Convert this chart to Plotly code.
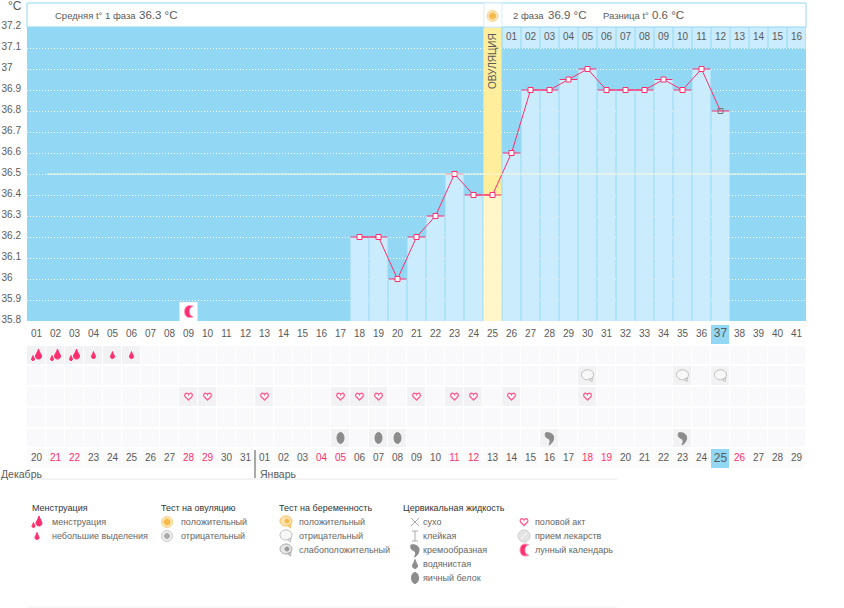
import plotly.graph_objects as go

# chart data
days = list(range(1, 42))
day_labels = [f"{d:02d}" for d in days]
date_labels = [str(d) for d in range(20, 32)] + [f"{d:02d}" for d in range(1, 30)]
red_date_days = [2, 3, 9, 10, 16, 17, 23, 24, 30, 31, 38]
temp_days = list(range(18, 38))
temps = [36.2, 36.2, 36.0, 36.2, 36.3, 36.5, 36.4, 36.4, 36.6, 36.9,
         36.9, 36.95, 37.0, 36.9, 36.9, 36.9, 36.95, 36.9, 37.0, 36.8]
y_ticks = [37.2, 37.1, 37.0, 36.9, 36.8, 36.7, 36.6, 36.5, 36.4, 36.3,
           36.2, 36.1, 36.0, 35.9, 35.8]
y_labels = ["37.2", "37.1", "37", "36.9", "36.8", "36.7", "36.6", "36.5", "36.4",
            "36.3", "36.2", "36.1", "36", "35.9", "35.8"]
phase2_days = list(range(26, 42))
phase2_labels = [f"{d:02d}" for d in range(1, 17)]
ovulation_day = 25
today = 37
cover_temp = 36.5
jan_first_day = 13
moon_days = [9]
heavy_days = [1, 2, 3]
light_days = [4, 5, 6]
preg_neg_days = [30, 35, 37]
sex_days = [9, 10, 13, 17, 18, 19, 21, 23, 24, 26, 30]
egg_days = [17, 19, 20]
cream_days = [28, 35]

W, H = 844, 608
BLUE = "#92d8f5"
PALE = "#cbecfd"
RED = "#ff2e6e"
TXT = "#5a5a5a"
FONT = "Liberation Sans"


def px(x):
    return x / W


def py(y):
    return 1 - y / H


# icons: (fill, line colour, path) in pixels around the anchor
def drop(cx, cy, w, h):
    return (f"M {cx} {cy + h / 2} C {cx + w * 0.2} {cy + h * 0.1} {cx + w / 2} {cy - h * 0.05} {cx + w / 2} {cy - h * 0.2} "
            f"C {cx + w / 2} {cy - h * 0.6} {cx - w / 2} {cy - h * 0.6} {cx - w / 2} {cy - h * 0.2} "
            f"C {cx - w / 2} {cy - h * 0.05} {cx - w * 0.2} {cy + h * 0.1} {cx} {cy + h / 2} Z")


def blob(cx, cy, rx, ry):
    k = 0.55
    return (f"M {cx} {cy + ry} C {cx + rx * k} {cy + ry} {cx + rx} {cy + ry * k} {cx + rx} {cy} "
            f"C {cx + rx} {cy - ry * k} {cx + rx * k} {cy - ry} {cx} {cy - ry} "
            f"C {cx - rx * k} {cy - ry} {cx - rx} {cy - ry * k} {cx - rx} {cy} "
            f"C {cx - rx} {cy + ry * k} {cx - rx * k} {cy + ry} {cx} {cy + ry} Z")


HEART = ("M 0 -3.5 L -3.5 0 C -4.5 1.8 -3.2 3.5 -1.6 3.2 C -0.8 3 -0.2 2.6 0 2 "
         "C 0.2 2.6 0.8 3 1.6 3.2 C 3.2 3.5 4.5 1.8 3.5 0 Z")
BUBBLE = blob(0, 1, 6, 5) + " M 1.5 -3.5 L 4.5 -6 L 5 -2 Z"
COMMA = "M -4 5 C 0 6 5 4 4 -1 C 3.5 -4 1.5 -6 -0.5 -7 C 1 -4 1 -2 -0.5 -1 C -3 0 -5 1 -4 5 Z"
MOON = "M 2 6 C -6 7 -6 -7 2 -6 C 5 -5.5 5 -5 4 -5 C 0 -4 0 4 4 5 C 5 5 5 5.5 2 6 Z"
GREY = "#8c8c8c"
ICONS = {
    "heavy": [(RED, RED, drop(2, 1, 6, 10)), (RED, RED, drop(-3.5, -3, 3, 5))],
    "light": [(RED, RED, drop(0, 0, 4, 7))],
    "heart": [("#ffffff", "#ff5f8f", HEART)],
    "bubble": [("#f8f8f8", "#bdbdbd", BUBBLE)],
    "bubble_pos": [("#fbe3ae", "#f4bf63", BUBBLE), ("#f6b94a", "#f6b94a", blob(1, 1, 2, 2))],
    "bubble_weak": [("#e6e6e6", "#aaaaaa", BUBBLE), ("#999999", "#999999", blob(1, 1, 2, 2))],
    "egg": [(GREY, GREY, blob(0, 0, 3.5, 5.5))],
    "cream": [(GREY, GREY, COMMA)],
    "water": [(GREY, GREY, drop(0, 0, 5, 9))],
    "moon": [(RED, "#ff9dbb", MOON)],
    "ov_pos": [("#fde6b8", "#fbd083", blob(0, 0, 5.5, 5.5)), ("#f6b94a", "#f6b94a", blob(0, 0, 3, 3))],
    "ov_neg": [("#eeeeee", "#cccccc", blob(0, 0, 5.5, 5.5)), ("#aaaaaa", "#aaaaaa", blob(0, 0, 2.5, 2.5))],
    "dry": [("rgba(0,0,0,0)", "#aaaaaa", "M -4 4 L 4 -4 M -4 -4 L 4 4")],
    "sticky": [("rgba(0,0,0,0)", "#aaaaaa", "M -3 5 L 3 5 M 0 5 L 0 -5 M -3 -5 L 3 -5")],
    "pill": [("#e4e4e4", "#cfcfcf", blob(0, 0, 6, 6)), ("rgba(0,0,0,0)", "#ffffff", "M -3 -3 L 3 3")],
}


def icon(fig, name, x, y, xref, yref):
    for fill, line, path in ICONS[name]:
        fig.add_shape(type="path", path=path, xref=xref, yref=yref, xsizemode="pixel", ysizemode="pixel",
                      xanchor=x, yanchor=y, fillcolor=fill, line=dict(color=line, width=1.3 if name == "heart" else 1))


def label(fig, text, x, y, size=9.5, color=TXT, **kw):
    fig.add_annotation(text=text, x=px(x), y=py(y), xref="paper", yref="paper", showarrow=False,
                       xanchor=kw.pop("xanchor", "left"), yanchor="middle", borderpad=0, borderwidth=0,
                       font=dict(family=FONT, size=size, color=color), **kw)


# grid of rows under the chart
rows = list(range(7))
active = {1: heavy_days + light_days, 2: preg_neg_days, 3: sex_days, 4: [], 5: egg_days + cream_days}
z = []
for r in rows:
    line = []
    for d in days:
        if r in (0, 6):
            line.append(4 if d == today else (0 if r == 0 else 1))
        else:
            line.append(3 if d in active[r] else 2)
    z.append(line)

fig = go.Figure()
fig.add_trace(go.Heatmap(x=days, y=rows, z=z, yaxis="y2", xgap=1, ygap=2, zmin=0, zmax=4, showscale=False,
                         hoverinfo="skip",
                         colorscale=[[0, "#ffffff"], [0.2, "#ffffff"], [0.25, "#fbfbfc"], [0.5, "#f9f9fb"],
                                     [0.75, "#f2f2f4"], [0.8, BLUE], [1, BLUE]]))

# background band of the ovulation day and bars
fig.add_trace(go.Bar(x=[ovulation_day], y=[y_ticks[0] - y_ticks[-1]], base=[y_ticks[-1]], width=0.95,
                     marker=dict(color="#ffee9c", line_width=0)))
fig.add_trace(go.Bar(x=temp_days, y=[t - y_ticks[-1] for t in temps], base=y_ticks[-1], width=0.95,
                     marker=dict(color=["#fff7c9" if d == ovulation_day else PALE for d in temp_days], line_width=0)))
fig.add_trace(go.Bar(x=phase2_days, y=[0.1] * len(phase2_days), base=y_ticks[1], width=0.95,
                     marker=dict(color=PALE, line_width=0)))
fig.add_trace(go.Bar(x=moon_days, y=[0.09], base=y_ticks[-1], width=0.95, marker=dict(color="#ffffff", line_width=0)))
fig.add_trace(go.Scatter(x=phase2_days, y=[37.15] * len(phase2_days), text=phase2_labels, mode="text",
                         textfont=dict(family=FONT, size=10, color=TXT)))

# temperature line
fig.add_trace(go.Scatter(x=temp_days, y=temps, mode="lines+markers",
                         line=dict(color=RED, width=1),
                         marker=dict(symbol="square", size=5,
                                     color=["rgba(255,255,255,0)" if d == today else "#ffffff" for d in temp_days],
                                     line=dict(color=["#777777" if d == today else RED for d in temp_days], width=1)),
                         error_x=dict(type="constant", value=0.47, color=RED, thickness=1, width=0)))

# day numbers and dates
fig.add_trace(go.Scatter(x=days, y=[0] * len(days), text=day_labels, mode="text", yaxis="y2",
                         textfont=dict(family=FONT, color=TXT, size=[12 if d == today else 10 for d in days])))
fig.add_trace(go.Scatter(x=days, y=[6] * len(days), text=date_labels, mode="text", yaxis="y2",
                         textfont=dict(family=FONT,
                                       color=[RED if d in red_date_days else TXT for d in days],
                                       size=[12 if d == today else 10 for d in days])))

fig.update_layout(
    width=W, height=H, margin=dict(l=0, r=0, t=0, b=0, autoexpand=False), autosize=False,
    paper_bgcolor="#ffffff", plot_bgcolor="rgba(0,0,0,0)", showlegend=False, barmode="overlay",
    font=dict(family=FONT, size=10, color=TXT),
    xaxis=dict(domain=[px(27), px(806)], range=[0.5, 41.5], visible=False),
    yaxis=dict(domain=[py(321), py(27)], range=[35.8, 37.2], tickmode="array", tickvals=y_ticks,
               ticktext=[s if "." in s else s + "\u00a0\u00a0\u00a0" for s in y_labels],
               ticks="outside", ticklen=3, tickcolor="rgba(0,0,0,0)", ticklabelshift=-2, zeroline=False,
               showline=False, showgrid=True, gridcolor="#ffffff", griddash="1px,2px", gridwidth=1,
               tickfont=dict(family=FONT, size=10, color=TXT)),
    yaxis2=dict(domain=[py(469), py(324)], range=[6.5, -0.5], visible=False),
)

# blue field behind the chart
fig.add_shape(type="rect", xref="x", yref="y", x0=0.5, x1=41.5, y0=y_ticks[-1], y1=y_ticks[0],
              fillcolor=BLUE, line_width=0, layer="below")
# cover line
fig.add_shape(type="line", xref="paper", yref="y", x0=px(47), x1=px(806), y0=cover_temp, y1=cover_temp,
              line=dict(color="#fbf8d8", width=1))

# header box
fig.add_shape(type="rect", xref="paper", yref="paper", x0=px(27), x1=px(806), y0=py(27), y1=py(3),
              fillcolor="#ffffff", line=dict(color=BLUE, width=1))
fig.add_shape(type="rect", xref="paper", yref="paper", x0=px(484), x1=px(502), y0=py(27), y1=py(3),
              fillcolor="#ffffff", line=dict(color="#d5eefa", width=1))
icon(fig, "ov_pos", ovulation_day, py(16), "x", "paper")
label(fig, "°C", 8, 6, size=12)
label(fig, "Средняя t° 1 фаза", 55, 16)
label(fig, "36.3 °C", 139, 15, size=11.5)
label(fig, "2 фаза", 513, 16)
label(fig, "36.9 °C", 548, 15, size=11.5)
label(fig, "Разница t°", 603, 16)
label(fig, "0.6 °C", 652, 15, size=11.5)
label(fig, "ОВУЛЯЦИЯ", 493, 61, size=10, xanchor="center", textangle=-90)

# event icons
for d in heavy_days:
    icon(fig, "heavy", d, 1, "x", "y2")
for d in light_days:
    icon(fig, "light", d, 1, "x", "y2")
for d in preg_neg_days:
    icon(fig, "bubble", d, 2, "x", "y2")
for d in sex_days:
    icon(fig, "heart", d, 3, "x", "y2")
for d in egg_days:
    icon(fig, "egg", d, 5, "x", "y2")
for d in cream_days:
    icon(fig, "cream", d, 5, "x", "y2")
for d in moon_days:
    icon(fig, "moon", d, 35.845, "x", "y")

# month labels and rules
fig.add_shape(type="line", xref="x", yref="paper", x0=jan_first_day - 0.5, x1=jan_first_day - 0.5,
              y0=py(450), y1=py(478), line=dict(color="#555555", width=1))
fig.add_shape(type="line", xref="paper", yref="paper", x0=px(27), x1=px(617), y0=py(479), y1=py(479),
              line=dict(color="#e8e8e8", width=1))
fig.add_shape(type="line", xref="paper", yref="paper", x0=px(27), x1=px(617), y0=py(607), y1=py(607),
              line=dict(color="#eeeeee", width=1))
label(fig, "Декабрь", 1, 474, size=10.5)
label(fig, "Январь", 260, 474, size=10.5)

# legend
legend_groups = [
    ("Менструация", 32, 37, 52, [("heavy", "менструация"), ("light", "небольшие выделения")]),
    ("Тест на овуляцию", 161, 167, 181, [("ov_pos", "положительный"), ("ov_neg", "отрицательный")]),
    ("Тест на беременность", 279, 286, 299, [("bubble_pos", "положительный"), ("bubble", "отрицательный"),
                                             ("bubble_weak", "слабоположительный")]),
    ("Цервикальная жидкость", 403, 415, 423, [("dry", "сухо"), ("sticky", "клейкая"), ("cream", "кремообразная"),
                                              ("water", "водянистая"), ("egg", "яичный белок")]),
    (None, 0, 524, 535, [("heart", "половой акт"), ("pill", "прием лекарств"), ("moon", "лунный календарь")]),
]
for title, tx, ix, lx, items in legend_groups:
    if title:
        label(fig, title, tx, 508, size=9, color="#333333")
    for i, (name, text) in enumerate(items):
        icon(fig, name, px(ix), py(522 + 14 * i), "paper", "paper")
        label(fig, text, lx, 522 + 14 * i, size=9, color="#666666")

fig.write_html("out.html", config=dict(displayModeBar=False), post_script="document.body.style.margin = '0';")
